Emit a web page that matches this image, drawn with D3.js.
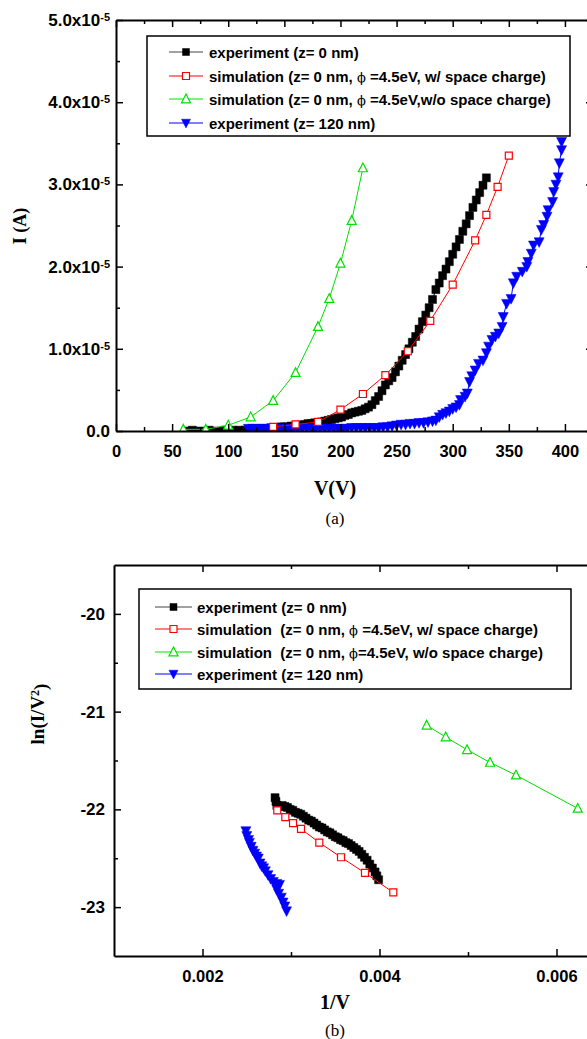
<!DOCTYPE html>
<meta charset="utf-8">
<style>
body { margin: 0; background: #fff; }
svg text { font-family: "Liberation Sans", Arial, sans-serif; font-weight: bold; fill: #000; }
svg text.title { font-family: "Liberation Serif", "Times New Roman", serif; }
svg text.caption { font-family: "Liberation Serif", "Times New Roman", serif; font-weight: normal; }
.axis path, .axis line { stroke: #000; fill: none; }
.frame path { stroke-width: 2px; }
.axis line { stroke-width: 1.5px; }
</style>
<body>
<div id="chart"></div>
<script src="https://d3js.org/d3.v7.min.js"></script>
<script>

// ---- panel (a): I-V curves, current in units of 1e-5 A ----
var iv_exp0 = [[62,0.0],[68,0.01],[75,0.0],[83,0.01],[90,0.0],[97,0.01],[104,0.01],[110,0.01],[115,0.01],
  [120,0.02],[123,0.02],[126,0.03],[129,0.03],[132,0.03],[135,0.03],[138,0.04],[141,0.04],[144,0.04],[147,0.05],
  [150,0.05],[153,0.05],[156,0.06],[159,0.06],[162,0.07],[165,0.07],[168,0.08],[171,0.09],[174,0.09],[177,0.10],
  [180,0.10],[183,0.11],[186,0.12],[189,0.13],[192,0.14],[195,0.15],[198,0.16],[201,0.17],[204,0.19],[207,0.20],
  [210,0.22],[213,0.23],[216,0.24],[219,0.25],[222,0.27],[225,0.29],[228,0.32],[231,0.37],[234,0.42],[237,0.49],
  [240,0.56],[243,0.61],[246,0.65],[249,0.72],[252,0.79],[255,0.86],[258,0.93],[261,1.00],[264,1.08],[267,1.15],
  [270,1.24],[273,1.33],[276,1.41],[279,1.50],[282,1.60],[285,1.72],[288,1.80],[291,1.89],[294,1.97],[297,2.06],
  [300,2.15],[303,2.24],[306,2.33],[309,2.43],[312,2.52],[315,2.62],[318,2.72],[321,2.81],[324,2.90],[327,2.99],
  [330,3.08]];
var iv_simSC = [[140,0.05],[160,0.08],[180,0.11],[200,0.26],[220,0.45],[240,0.68],[260,0.97],[280,1.34],
  [300,1.78],[320,2.32],[330,2.63],[340,2.97],[350,3.35]];
var iv_simNoSC = [[60,0.02],[80,0.02],[100,0.07],[120,0.17],[140,0.37],[160,0.71],[180,1.27],[190,1.61],
  [200,2.04],[210,2.56],[220,3.20]];
var iv_exp120 = [[118,0.03],[122,0.03],[126,0.03],[130,0.03],[134,0.03],[138,0.03],[142,0.03],[146,0.03],
  [150,0.03],[154,0.03],[158,0.03],[162,0.03],[166,0.03],[170,0.03],[174,0.03],[178,0.03],[182,0.03],[186,0.03],
  [190,0.03],[194,0.03],[198,0.03],[202,0.03],[206,0.03],[210,0.04],[214,0.04],[218,0.04],[222,0.04],[226,0.04],
  [230,0.04],[234,0.04],[238,0.05],[242,0.05],[246,0.06],[250,0.07],[254,0.08],[258,0.08],[262,0.09],[266,0.09],
  [270,0.10],[274,0.10],[278,0.11],[282,0.12],[285,0.13],[288,0.17],[291,0.20],[294,0.22],[297,0.24],[300,0.27],
  [303,0.29],[306,0.32],[307,0.38],[311,0.42],[313,0.46],[315,0.60],[317,0.67],[320,0.74],[323,0.82],[327,0.86],
  [330,0.95],[332,1.03],[335,1.11],[338,1.15],[341,1.19],[344,1.27],[345,1.39],[348,1.55],[352,1.61],[354,1.80],
  [357,1.88],[362,1.94],[366,2.00],[367,2.06],[370,2.16],[372,2.26],[377,2.30],[379,2.45],[381,2.51],[384,2.61],
  [385,2.69],[389,2.79],[390,2.91],[392,3.00],[394,3.09],[395,3.26],[397,3.42],[397,3.52]];

// ---- panel (b): FN plot, [1/V, ln(I/V^2)] ----
var fn_exp0 = [[0.00282,-21.88],[0.00283,-21.92],[0.00284,-21.96],[0.00287,-21.97],[0.00290,-21.96],[0.00293,-21.97],
  [0.00296,-21.98],[0.00299,-22.00],[0.00302,-22.01],[0.00305,-22.03],[0.00308,-22.04],[0.00311,-22.05],
  [0.00314,-22.07],[0.00317,-22.09],[0.00320,-22.11],[0.00323,-22.12],[0.00326,-22.14],[0.00329,-22.16],
  [0.00332,-22.18],[0.00335,-22.19],[0.00338,-22.21],[0.00341,-22.23],[0.00344,-22.24],[0.00347,-22.26],
  [0.00350,-22.28],[0.00353,-22.29],[0.00356,-22.31],[0.00359,-22.32],[0.00362,-22.34],[0.00365,-22.35],
  [0.00368,-22.37],[0.00371,-22.39],[0.00374,-22.41],[0.00377,-22.43],[0.00380,-22.46],[0.00383,-22.49],
  [0.00386,-22.52],[0.00389,-22.56],[0.00392,-22.60],[0.00395,-22.64],[0.00397,-22.68],[0.00399,-22.72]];
var fn_simSC = [[0.002845,-22.01],[0.002936,-22.08],[0.003023,-22.14],[0.003113,-22.20],[0.00332,-22.34],
  [0.003565,-22.49],[0.003836,-22.65],[0.004156,-22.85]];
var fn_simNoSC = [[0.004533,-21.14],[0.004748,-21.26],[0.004989,-21.39],[0.005249,-21.52],[0.005542,-21.65],
  [0.00624,-21.99]];
var fn_exp120 = [[0.00249,-22.22],[0.00250,-22.27],[0.00252,-22.31],[0.00253,-22.34],[0.00255,-22.38],
  [0.00257,-22.42],[0.00259,-22.45],[0.00261,-22.48],[0.00263,-22.50],[0.00265,-22.55],[0.00267,-22.58],
  [0.00269,-22.60],[0.00271,-22.63],[0.00274,-22.67],[0.00277,-22.71],[0.00280,-22.74],[0.00284,-22.76],
  [0.00287,-22.77],[0.00284,-22.82],[0.00286,-22.86],[0.00289,-22.90],[0.00291,-22.95],[0.00293,-22.99],
  [0.00295,-23.04]];

var legendA = ["experiment (z= 0 nm)",
  "simulation (z= 0 nm, \u03d5 =4.5eV, w/ space charge)",
  "simulation (z= 0 nm, \u03d5 =4.5eV,w/o space charge)",
  "experiment (z= 120 nm)"];
var legendB = ["experiment (z= 0 nm)",
  "simulation  (z= 0 nm, \u03d5 =4.5eV, w/ space charge)",
  "simulation  (z= 0 nm, \u03d5=4.5eV, w/o space charge)",
  "experiment (z= 120 nm)"];

var xTicksA = [0,50,100,150,200,250,300,350,400], xMinorA = [25,75,125,175,225,275,325,375,425];
var yTicksA = [0,1,2,3,4,5], yMinorA = [0.5,1.5,2.5,3.5,4.5];
var xTicksB = [0.002,0.004,0.006], xMinorB = [0.003,0.005];
var yTicksB = [-20,-21,-22,-23], yMinorB = [-20.5,-21.5,-22.5];

var styles = [
  {color:"#000", shape:"square", fill:true},
  {color:"#ff0000", shape:"square", fill:false},
  {color:"#00e000", shape:"triUp", fill:false},
  {color:"#0000ff", shape:"triDown", fill:true}
];

var svg = d3.select("#chart").append("svg")
    .attr("width", 587)
    .attr("height", 1039);

function markerPath(shape, s) {
  if (shape == "square") return "M" + (-s/2) + "," + (-s/2) + "h" + s + "v" + s + "h" + (-s) + "Z";
  if (shape == "triUp") return "M0," + (-s*0.55) + "L" + (s/2) + "," + (s*0.42) + "L" + (-s/2) + "," + (s*0.42) + "Z";
  return "M0," + (s*0.55) + "L" + (s/2) + "," + (-s*0.42) + "L" + (-s/2) + "," + (-s*0.42) + "Z";
}

// box axes with ticks pointing inward; returns [bottom, left] labelled axes
function drawFrame(g, x, y, xt, xm, yt, ym, xPad, yPad, xFmt, yFmt) {
  var b = y.range()[0], t = y.range()[1], l = x.range()[0], r = x.range()[1];
  var bottom = g.append("g").attr("class", "axis frame").attr("transform", "translate(0," + b + ")")
    .call(d3.axisBottom(x).tickValues(xt).tickSize(-7).tickSizeOuter(0).tickPadding(xPad).tickFormat(xFmt));
  g.append("g").attr("class", "axis").attr("transform", "translate(0," + b + ")")
    .call(d3.axisBottom(x).tickValues(xm).tickSize(-4).tickFormat("")).select(".domain").remove();
  g.append("g").attr("class", "axis frame").attr("transform", "translate(0," + t + ")")
    .call(d3.axisTop(x).tickValues(xt).tickSize(-7).tickSizeOuter(0).tickFormat(""));
  g.append("g").attr("class", "axis").attr("transform", "translate(0," + t + ")")
    .call(d3.axisTop(x).tickValues(xm).tickSize(-4).tickFormat("")).select(".domain").remove();
  var left = g.append("g").attr("class", "axis frame").attr("transform", "translate(" + l + ",0)")
    .call(d3.axisLeft(y).tickValues(yt).tickSize(-7).tickSizeOuter(0).tickPadding(yPad).tickFormat(yFmt));
  g.append("g").attr("class", "axis").attr("transform", "translate(" + l + ",0)")
    .call(d3.axisLeft(y).tickValues(ym).tickSize(-4).tickFormat("")).select(".domain").remove();
  g.append("g").attr("class", "axis frame").attr("transform", "translate(" + r + ",0)")
    .call(d3.axisRight(y).tickValues(yt).tickSize(-7).tickSizeOuter(0).tickFormat(""));
  g.append("g").attr("class", "axis").attr("transform", "translate(" + r + ",0)")
    .call(d3.axisRight(y).tickValues(ym).tickSize(-4).tickFormat("")).select(".domain").remove();
  g.selectAll(".axis").attr("font-family", null).attr("font-size", null);
  bottom.selectAll("text").style("font-size", "16.5px");
  left.selectAll("text").style("font-size", "17px");
  return [bottom, left];
}

function drawSeries(g, x, y, data, st, size) {
  g.append("path").datum(data)
    .attr("d", d3.line().x(d => x(d[0])).y(d => y(d[1])))
    .attr("fill", "none").attr("stroke", st.color).attr("stroke-width", 1);
  g.selectAll(null).data(data).enter().append("path")
    .attr("transform", d => "translate(" + x(d[0]) + "," + y(d[1]) + ")")
    .attr("d", markerPath(st.shape, size))
    .attr("fill", st.fill ? st.color : "#fff")
    .attr("stroke", st.color)
    .attr("stroke-width", st.fill ? 0.5 : 1.2);
}

function drawLegend(g, box, rows, labels, lx1, lx2, tx) {
  g.append("rect").attr("x", box[0]).attr("y", box[1]).attr("width", box[2] - box[0]).attr("height", box[3] - box[1])
    .attr("fill", "#fff").attr("stroke", "#000").attr("stroke-width", 1.5);
  labels.forEach(function(lab, i) {
    var st = styles[i], cy = rows[i];
    g.append("line").attr("x1", lx1).attr("x2", lx2).attr("y1", cy).attr("y2", cy)
      .attr("stroke", i == 0 ? "#444" : st.color).attr("stroke-width", 1);
    g.append("path").attr("transform", "translate(" + ((lx1 + lx2) / 2) + "," + cy + ")")
      .attr("d", markerPath(st.shape, st.shape == "square" ? 7 : 9))
      .attr("fill", st.fill ? st.color : "#fff").attr("stroke", st.color).attr("stroke-width", st.fill ? 0.5 : 1.2);
    var t = g.append("text").attr("x", tx).attr("y", cy + 5.5).style("font-size", "15px").style("white-space", "pre");
    var parts = lab.split("\u03d5");
    t.append("tspan").text(parts[0]);
    if (parts.length > 1) {
      t.append("tspan").style("font-family", "'DejaVu Serif', serif").style("font-weight", "normal")
        .style("font-size", "13px").text("\u03d5");
      t.append("tspan").text(parts[1]);
    }
  });
}

// ================= panel (a) =================
var xA = d3.scaleLinear().domain([0, 425]).range([116, 593]);
var yA = d3.scaleLinear().domain([0, 5]).range([431, 20]);
var gA = svg.append("g");
svg.append("clipPath").attr("id", "clipA").append("rect").attr("x", 116).attr("y", 20).attr("width", 477).attr("height", 411);
var dA = gA.append("g").attr("clip-path", "url(#clipA)");
drawSeries(dA, xA, yA, iv_exp0, styles[0], 8);
drawSeries(dA, xA, yA, iv_exp120, styles[3], 10);
drawSeries(dA, xA, yA, iv_simSC, styles[1], 7);
drawSeries(dA, xA, yA, iv_simNoSC, styles[2], 9);
var axA = drawFrame(gA, xA, yA, xTicksA, xMinorA, yTicksA, yMinorA, 14, 6, d => String(d), d => d.toFixed(1));
axA[1].selectAll(".tick text").each(function(d) {
  if (d == 0) return;
  var t = d3.select(this);
  t.text(null);
  t.append("tspan").text(d.toFixed(1) + "x10");
  t.append("tspan").attr("dy", "-0.45em").style("font-size", "11px").text("-5");
});
drawLegend(gA, [147, 36, 570, 136], [52, 76, 99, 123], legendA, 169, 203, 209);

gA.append("text").attr("class", "title").attr("transform", "translate(26,226) rotate(-90)")
  .attr("text-anchor", "middle").style("font-size", "18px").text("I (A)");
gA.append("text").attr("class", "title").attr("x", 335).attr("y", 495)
  .attr("text-anchor", "middle").style("font-size", "20px").text("V(V)");
gA.append("text").attr("class", "caption").attr("x", 335).attr("y", 524)
  .attr("text-anchor", "middle").style("font-size", "17px").text("(a)");

// ================= panel (b) =================
var xB = d3.scaleLinear().domain([0.001, 0.0065]).range([114, 600.75]);
var yB = d3.scaleLinear().domain([-23.5, -19.5]).range([956, 565]);
var gB = svg.append("g");
svg.append("clipPath").attr("id", "clipB").append("rect").attr("x", 114).attr("y", 565).attr("width", 487).attr("height", 391);
var dB = gB.append("g").attr("clip-path", "url(#clipB)");
drawSeries(dB, xB, yB, fn_exp0, styles[0], 8);
drawSeries(dB, xB, yB, fn_exp120, styles[3], 10);
drawSeries(dB, xB, yB, fn_simSC, styles[1], 7);
drawSeries(dB, xB, yB, fn_simNoSC, styles[2], 9);
drawFrame(gB, xB, yB, xTicksB, xMinorB, yTicksB, yMinorB, 14, 9, d => d.toFixed(3), d => String(d));
drawLegend(gB, [139, 589, 571, 689], [607, 629, 652, 674], legendB, 155, 192, 197);

var yt = gB.append("text").attr("class", "title").attr("transform", "translate(44,714) rotate(-90)")
  .attr("text-anchor", "middle").style("font-size", "19px");
yt.append("tspan").text("ln(I/V");
yt.append("tspan").attr("dy", "-0.45em").style("font-size", "12px").text("2");
yt.append("tspan").attr("dy", "0.45em").text(")");
gB.append("text").attr("class", "title").attr("x", 335).attr("y", 1009)
  .attr("text-anchor", "middle").style("font-size", "20px").text("1/V");
gB.append("text").attr("class", "caption").attr("x", 335).attr("y", 1036)
  .attr("text-anchor", "middle").style("font-size", "17px").text("(b)");

</script>
